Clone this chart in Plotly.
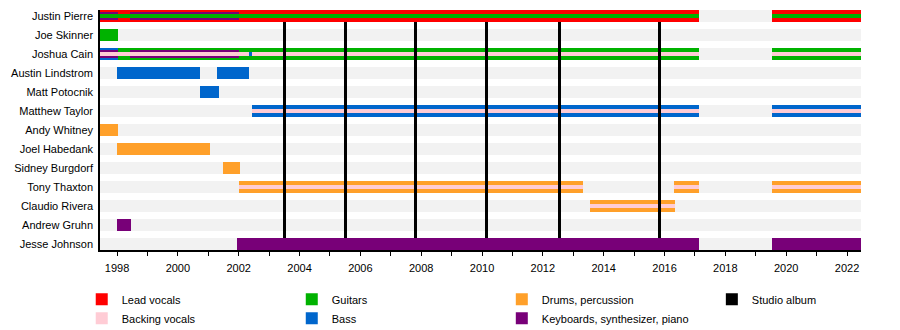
import plotly.graph_objects as go

# Band timeline: members, their roles over time, and studio album releases.
members = [
    "Justin Pierre", "Joe Skinner", "Joshua Cain", "Austin Lindstrom",
    "Matt Potocnik", "Matthew Taylor", "Andy Whitney", "Joel Habedank",
    "Sidney Burgdorf", "Tony Thaxton", "Claudio Rivera", "Andrew Gruhn",
    "Jesse Johnson",
]

period_start = 1997.44
period_end = 2022.46

# (member, role, start, end) — main role of each member in a period
main_roles = [
    ("Justin Pierre", "Lead vocals", 1997.44, 2017.13),
    ("Justin Pierre", "Lead vocals", 2019.55, 2022.46),
    ("Joe Skinner", "Guitars", 1997.44, 1998.03),
    ("Joshua Cain", "Bass", 1997.44, 1998.03),
    ("Joshua Cain", "Guitars", 1998.03, 2017.13),
    ("Joshua Cain", "Guitars", 2019.55, 2022.46),
    ("Austin Lindstrom", "Bass", 1998.00, 2000.73),
    ("Austin Lindstrom", "Bass", 2001.29, 2002.34),
    ("Matt Potocnik", "Bass", 2000.73, 2001.35),
    ("Matthew Taylor", "Bass", 2002.44, 2017.13),
    ("Matthew Taylor", "Bass", 2019.55, 2022.46),
    ("Andy Whitney", "Drums, percussion", 1997.44, 1998.03),
    ("Joel Habedank", "Drums, percussion", 1998.00, 2001.06),
    ("Sidney Burgdorf", "Drums, percussion", 2001.48, 2002.05),
    ("Tony Thaxton", "Drums, percussion", 2002.02, 2013.31),
    ("Tony Thaxton", "Drums, percussion", 2016.30, 2017.13),
    ("Tony Thaxton", "Drums, percussion", 2019.55, 2022.46),
    ("Claudio Rivera", "Drums, percussion", 2013.55, 2016.33),
    ("Andrew Gruhn", "Keyboards, synthesizer, piano", 1998.00, 1998.45),
    ("Jesse Johnson", "Keyboards, synthesizer, piano", 2001.94, 2017.13),
    ("Jesse Johnson", "Keyboards, synthesizer, piano", 2019.55, 2022.46),
]

# second role
second_roles = [
    ("Justin Pierre", "Keyboards, synthesizer, piano", 1997.44, 1998.03),
    ("Justin Pierre", "Keyboards, synthesizer, piano", 1998.42, 2002.00),
    ("Joshua Cain", "Keyboards, synthesizer, piano", 1997.44, 1998.03),
    ("Joshua Cain", "Keyboards, synthesizer, piano", 1998.42, 2002.00),
]

# third role
third_roles = [
    ("Justin Pierre", "Guitars", 1997.44, 2017.13),
    ("Justin Pierre", "Guitars", 2019.55, 2022.46),
    ("Joshua Cain", "Backing vocals", 1997.44, 2017.13),
    ("Joshua Cain", "Backing vocals", 2019.55, 2022.46),
    ("Joshua Cain", "Bass", 2002.34, 2002.44),
    ("Matthew Taylor", "Backing vocals", 2002.44, 2017.13),
    ("Matthew Taylor", "Backing vocals", 2019.55, 2022.46),
    ("Tony Thaxton", "Backing vocals", 2002.02, 2013.31),
    ("Tony Thaxton", "Backing vocals", 2016.30, 2017.13),
    ("Tony Thaxton", "Backing vocals", 2019.55, 2022.46),
    ("Claudio Rivera", "Backing vocals", 2013.55, 2016.33),
]

studio_albums = [2003.50, 2005.50, 2007.80, 2010.15, 2012.55, 2015.85]

tick_years = list(range(1998, 2023, 2))

# ---- styling ----
role_colors = {
    "Lead vocals": "#FF0000",
    "Backing vocals": "#FFCCD5",
    "Guitars": "#00B200",
    "Bass": "#0066CC",
    "Drums, percussion": "#FFA02A",
    "Keyboards, synthesizer, piano": "#780078",
    "Studio album": "#000000",
}
# legend column (and order within it) of every role
role_legend = {
    "Lead vocals": ("legend", 1),
    "Backing vocals": ("legend", 2),
    "Guitars": ("legend2", 1),
    "Bass": ("legend2", 2),
    "Drums, percussion": ("legend3", 1),
    "Keyboards, synthesizer, piano": ("legend3", 2),
    "Studio album": ("legend4", 1),
}
tier_widths = [0.63, 0.42, 0.2]
FONT = "Liberation Sans, Arial, sans-serif"

row_of = {m: i for i, m in enumerate(members)}
fig = go.Figure()

# light grey background bar on each row
fig.add_trace(go.Bar(
    orientation="h",
    y=list(range(len(members))),
    base=[period_start] * len(members),
    x=[period_end - period_start] * len(members),
    width=tier_widths[0],
    marker=dict(color="#F2F2F2", line=dict(width=0)),
    showlegend=False, hoverinfo="skip",
))

shown = set()
for tier, spans in enumerate([main_roles, second_roles, third_roles]):
    roles = []
    for _, role, _, _ in spans:
        if role not in roles:
            roles.append(role)
    for role in roles:
        sel = [s for s in spans if s[1] == role]
        legend_name, rank = role_legend[role]
        fig.add_trace(go.Bar(
            orientation="h",
            name=role,
            y=[row_of[s[0]] for s in sel],
            base=[s[2] for s in sel],
            x=[s[3] - s[2] for s in sel],
            width=tier_widths[tier],
            marker=dict(color=role_colors[role], line=dict(width=0)),
            legendgroup=role,
            legend=legend_name,
            legendrank=rank,
            showlegend=role not in shown,
            hovertemplate="%{base:.2f}–%{x:.2f}<extra>" + role + "</extra>",
        ))
        shown.add(role)

# studio album release lines between first and last row
line_top = tier_widths[0] / 2
line_bottom = len(members) - 1 - tier_widths[0] / 2
fig.add_trace(go.Bar(
    orientation="v",
    name="Studio album",
    x=studio_albums,
    base=[line_top] * len(studio_albums),
    y=[line_bottom - line_top] * len(studio_albums),
    width=0.1,
    marker=dict(color="#000000", line=dict(width=0)),
    legend="legend4",
    showlegend=True,
    hoverinfo="x",
))

legend_common = dict(
    orientation="v", yanchor="top", xanchor="left",
    yref="container", y=0.137,
    font=dict(family=FONT, size=11, color="#000"),
    bgcolor="rgba(0,0,0,0)", itemclick=False, itemdoubleclick=False,
    tracegroupgap=0,
)

fig.update_layout(
    width=900, height=330,
    margin=dict(l=100, r=39, t=10, b=80, autoexpand=False),
    barmode="overlay",
    bargap=0,
    plot_bgcolor="#FFFFFF",
    paper_bgcolor="#FFFFFF",
    font=dict(family=FONT, size=11, color="#000"),
    xaxis=dict(
        range=[period_start, period_end],
        tickvals=tick_years,
        ticktext=[str(y) for y in tick_years],
        ticks="outside", ticklen=4, tickcolor="#000", tickwidth=1,
        minor=dict(dtick=1, tick0=1998, ticks="outside", ticklen=4,
                   tickcolor="#000", tickwidth=1, showgrid=False),
        showline=True, linecolor="#000", linewidth=1.5,
        showgrid=False, zeroline=False, ticklabelstandoff=3,
        tickfont=dict(family=FONT, size=11, color="#000"),
    ),
    yaxis=dict(
        range=[len(members) - 1 + 0.29, -0.315],
        tickvals=list(range(len(members))),
        ticktext=members,
        ticks="", showline=True, linecolor="#000", linewidth=1.5,
        showgrid=False, zeroline=False, ticklabelstandoff=3,
        tickfont=dict(family=FONT, size=11, color="#000"),
    ),
    legend=dict(x=-0.024, **legend_common),
    legend2=dict(x=0.252, **legend_common),
    legend3=dict(x=0.528, **legend_common),
    legend4=dict(x=0.804, **legend_common),
)

fig.write_html("out.html")
